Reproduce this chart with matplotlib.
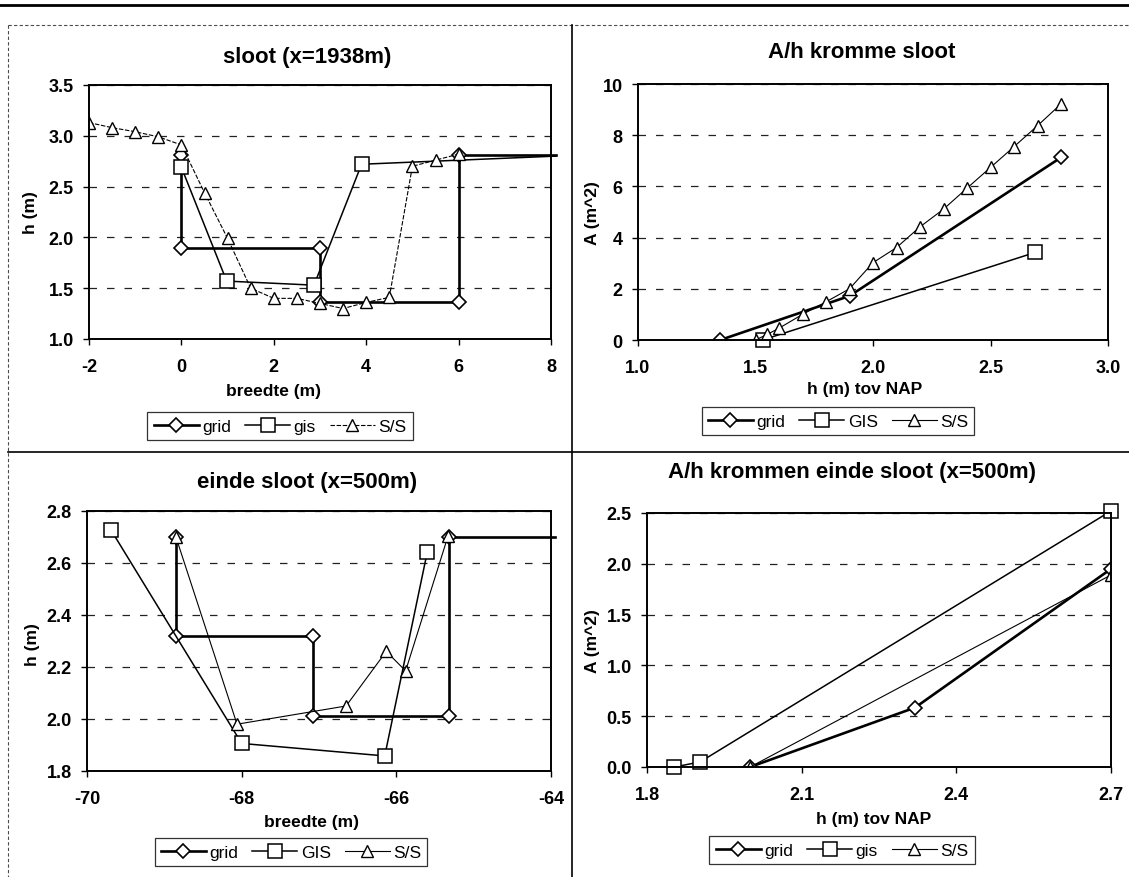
import matplotlib.pyplot as plt
from matplotlib.lines import Line2D
from matplotlib.ticker import FormatStrFormatter

plt.rcParams['font.family'] = ['Liberation Sans', 'DejaVu Sans']
plt.rcParams['axes.unicode_minus'] = False

W, H = 1129, 878

# sloot (x=1938m): dwarsprofiel
sloot_grid_x = [0, 0, 3, 3, 6, 6, 8.1]
sloot_grid_h = [2.81, 1.90, 1.90, 1.36, 1.36, 2.81, 2.81]
sloot_gis_x = [0, 0.98, 2.87, 3.9, 8.1]
sloot_gis_h = [2.69, 1.57, 1.53, 2.72, 2.80]
sloot_ss_x = [-2, -1.5, -1, -0.5, 0, 0.5, 1, 1.5, 2, 2.5, 3, 3.5, 4, 4.5, 5, 5.5, 6]
sloot_ss_h = [3.13, 3.08, 3.04, 2.99, 2.91, 2.44, 1.99, 1.50, 1.40, 1.40,
              1.35, 1.30, 1.36, 1.41, 2.70, 2.76, 2.82]

# A/h kromme sloot
kromme_grid_h = [1.35, 1.9, 2.8]
kromme_grid_A = [0, 1.72, 7.13]
kromme_gis_h = [1.53, 2.69]
kromme_gis_A = [0, 3.42]
kromme_ss_h = [1.5, 1.55, 1.6, 1.7, 1.8, 1.9, 2.0, 2.1, 2.2, 2.3, 2.4, 2.5, 2.6, 2.7, 2.8]
kromme_ss_A = [0, 0.22, 0.46, 1.0, 1.49, 2.0, 3.02, 3.61, 4.42, 5.11, 5.93, 6.74, 7.55, 8.37, 9.22]

# einde sloot (x=500m): dwarsprofiel
einde_grid_x = [-68.85, -68.85, -67.08, -67.08, -65.32, -65.32, -63.95]
einde_grid_h = [2.70, 2.32, 2.32, 2.01, 2.01, 2.70, 2.70]
einde_gis_x = [-69.69, -68.0, -66.15, -65.6]
einde_gis_h = [2.727, 1.906, 1.858, 2.642]
einde_ss_x = [-68.85, -68.06, -66.65, -66.13, -65.88, -65.33]
einde_ss_h = [2.70, 1.98, 2.05, 2.26, 2.185, 2.705]

# A/h krommen einde sloot (x=500m)
eind_kr_grid_h = [2.0, 2.32, 2.7]
eind_kr_grid_A = [0, 0.585, 1.95]
eind_kr_gis_h = [1.853, 1.903, 2.7]
eind_kr_gis_A = [0, 0.05, 2.52]
eind_kr_ss_h = [2.0, 2.7]
eind_kr_ss_A = [0, 1.89]

fig = plt.figure(figsize=(W / 100, H / 100), dpi=100)


def px_axes(l, t, r, b):
    return fig.add_axes([l / W, 1 - b / H, (r - l) / W, (b - t) / H])


def px_text(x, y, s, **kw):
    fig.text(x / W, 1 - y / H, s, ha='center', va='center', **kw)


def style(ax, xlim, ylim, xticks, yticks, xfmt, yfmt):
    ax.set_xlim(*xlim)
    ax.set_ylim(*ylim)
    ax.set_xticks(xticks)
    ax.set_yticks(yticks)
    ax.xaxis.set_major_formatter(FormatStrFormatter(xfmt))
    ax.yaxis.set_major_formatter(FormatStrFormatter(yfmt))
    for sp in ax.spines.values():
        sp.set_linewidth(1.4)
    ax.tick_params(direction='out', length=4, width=1)
    ax.tick_params(axis='x', pad=9.5, labelsize=13)
    ax.tick_params(axis='y', pad=7, labelsize=13)
    for lab in ax.get_xticklabels() + ax.get_yticklabels():
        lab.set_fontweight('bold')
    ax.yaxis.grid(True, color='#222222', lw=0.9, linestyle=(0, (6, 8)))
    ax.set_axisbelow(True)


def draw(ax, gx, gy, sx, sy, tx, ty, ss_ls='-', clip_ends=False):
    kw = dict(markerfacecolor='white', markeredgecolor='black', color='black')
    extra = {}
    if clip_ends:
        extra = dict(markevery=slice(0, -1), clip_on=False)
    ax.plot(gx, gy, marker='D', markersize=7.5, lw=1.9, markeredgewidth=1.2, **kw, **extra)
    ax.plot(sx, sy, marker='s', markersize=10.5, lw=1.1, markeredgewidth=1.1, clip_on=False, **kw,
            **({'markevery': slice(0, -1)} if clip_ends and len(sx) == 5 else {}))
    ax.plot(tx, ty, marker='^', markersize=8.5, lw=0.8, markeredgewidth=1.0, linestyle=ss_ls,
            **kw)


def legend(ax, labels, cx, cy):
    h = ax.get_lines()[:3]
    leg = ax.legend(h, labels, ncol=3, loc='center', bbox_to_anchor=(cx / W, 1 - cy / H),
                    bbox_transform=fig.transFigure, fontsize=12.5, frameon=True, fancybox=False,
                    handlelength=2.6, handletextpad=0.2, columnspacing=0.8,
                    borderpad=0.35, borderaxespad=0)
    fr = leg.get_frame()
    fr.set_edgecolor('black')
    fr.set_linewidth(0.9)


# sloot (x=1938m)
ax1 = px_axes(89, 86, 551, 340)
style(ax1, (-2, 8), (1.0, 3.5), [-2, 0, 2, 4, 6, 8], [1.0, 1.5, 2.0, 2.5, 3.0, 3.5], '%d', '%.1f')
draw(ax1, sloot_grid_x, sloot_grid_h, sloot_gis_x, sloot_gis_h, sloot_ss_x, sloot_ss_h,
     ss_ls=(0, (4, 1.5)), clip_ends=True)
legend(ax1, ['grid', 'gis', 'S/S'], 280, 427)
px_text(307, 57, 'sloot (x=1938m)', fontsize=16, fontweight='bold')
px_text(273, 392, 'breedte (m)', fontsize=12.5, fontweight='bold')
px_text(30, 213, 'h (m)', fontsize=12.5, fontweight='bold', rotation=90)

# A/h kromme sloot
ax2 = px_axes(638, 85, 1108, 341)
style(ax2, (1.0, 3.0), (0, 10), [1.0, 1.5, 2.0, 2.5, 3.0], [0, 2, 4, 6, 8, 10], '%.1f', '%d')
draw(ax2, kromme_grid_h, kromme_grid_A, kromme_gis_h, kromme_gis_A, kromme_ss_h, kromme_ss_A)
legend(ax2, ['grid', 'GIS', 'S/S'], 838, 422)
px_text(862, 52, 'A/h kromme sloot', fontsize=16, fontweight='bold')
px_text(865, 390, 'h (m) tov NAP', fontsize=12.5, fontweight='bold')
px_text(593, 213, 'A (m^2)', fontsize=12.5, fontweight='bold', rotation=90)

# einde sloot (x=500m)
ax3 = px_axes(87, 512, 551, 772)
style(ax3, (-70, -64), (1.8, 2.8), [-70, -68, -66, -64], [1.8, 2.0, 2.2, 2.4, 2.6, 2.8],
      '%d', '%.1f')
draw(ax3, einde_grid_x, einde_grid_h, einde_gis_x, einde_gis_h, einde_ss_x, einde_ss_h,
     clip_ends=True)
legend(ax3, ['grid', 'GIS', 'S/S'], 291, 853)
px_text(307, 483, 'einde sloot (x=500m)', fontsize=16, fontweight='bold')
px_text(311, 823, 'breedte (m)', fontsize=12.5, fontweight='bold')
px_text(32, 645, 'h (m)', fontsize=12.5, fontweight='bold', rotation=90)

# A/h krommen einde sloot (x=500m)
ax4 = px_axes(647, 514, 1111, 768)
style(ax4, (1.8, 2.7), (0, 2.5), [1.8, 2.1, 2.4, 2.7], [0, 0.5, 1.0, 1.5, 2.0, 2.5],
      '%.1f', '%.1f')
draw(ax4, eind_kr_grid_h, eind_kr_grid_A, eind_kr_gis_h, eind_kr_gis_A, eind_kr_ss_h, eind_kr_ss_A)
legend(ax4, ['grid', 'gis', 'S/S'], 842, 851)
px_text(852, 473, 'A/h krommen einde sloot (x=500m)', fontsize=16, fontweight='bold')
px_text(874, 820, 'h (m) tov NAP', fontsize=12.5, fontweight='bold')
px_text(593, 641, 'A (m^2)', fontsize=12.5, fontweight='bold', rotation=90)

# page frame around the four charts
def frame_line(x0, y0, x1, y1, **kw):
    fig.add_artist(Line2D([x0 / W, x1 / W], [1 - y0 / H, 1 - y1 / H], color='black', **kw))


frame_line(0, 6, W, 6, lw=2.0)
frame_line(8, 26, W, 26, lw=0.8, linestyle=(0, (3, 2)), alpha=0.7)
frame_line(8, 26, 8, H, lw=0.8, linestyle=(0, (3, 2)), alpha=0.7)
frame_line(572, 26, 572, H, lw=1.2)
frame_line(8, 453, W, 453, lw=1.2)

fig.savefig('out.png', dpi=100)
